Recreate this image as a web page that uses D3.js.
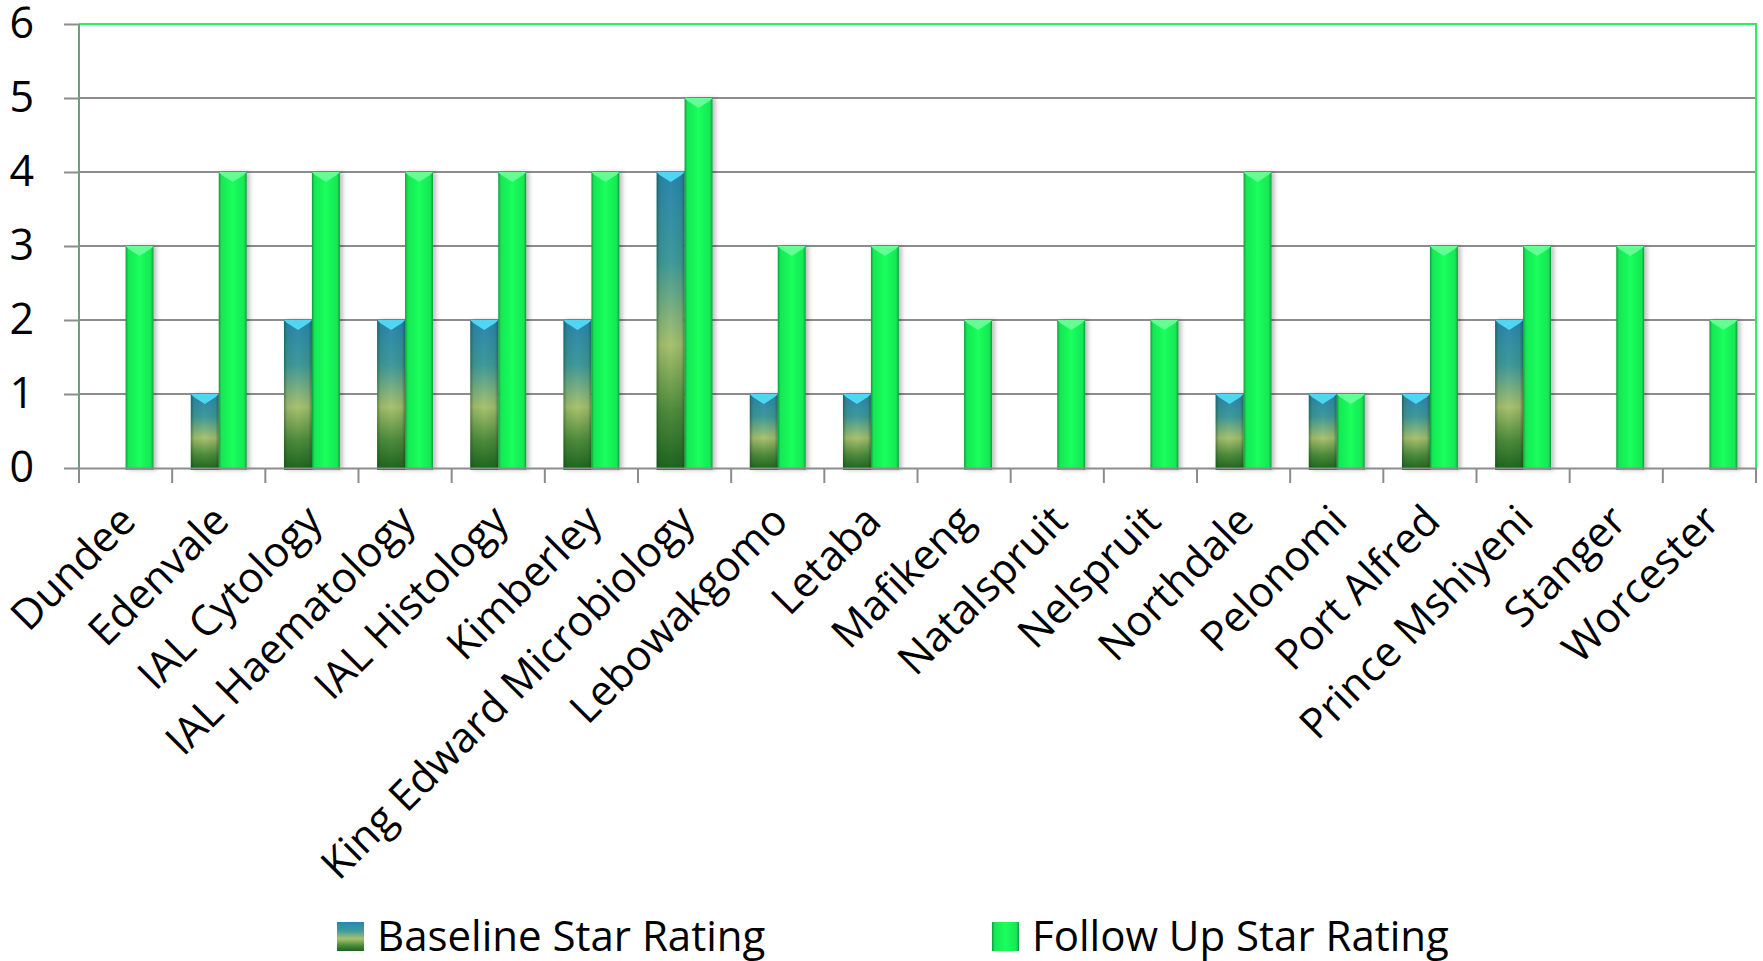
<!DOCTYPE html>
<html lang="en">
<head>
  <meta charset="UTF-8">
  <title>Star Rating</title>
  <script src="https://cdn.jsdelivr.net/npm/d3@7/dist/d3.min.js"></script>
  <style>
    body { margin: 0; background: #fff; }
    text { font-family: "Open Sans", sans-serif; fill: #000; }
  </style>
</head>
<body>
  <script>
    const categories = ['Dundee', 'Edenvale', 'IAL Cytology', 'IAL Haematology', 'IAL Histology', 'Kimberley',
      'King Edward Microbiology', 'Lebowakgomo', 'Letaba', 'Mafikeng', 'Natalspruit', 'Nelspruit',
      'Northdale', 'Pelonomi', 'Port Alfred', 'Prince Mshiyeni', 'Stanger', 'Worcester']
    const baseline = [0, 1, 2, 2, 2, 2, 4, 1, 1, 0, 0, 0, 1, 1, 1, 2, 0, 0]
    const followUp = [3, 4, 4, 4, 4, 4, 5, 3, 3, 2, 2, 2, 4, 1, 3, 3, 3, 2]
    const seriesNames = ['Baseline Star Rating', 'Follow Up Star Rating']
    const yTicks = [0, 1, 2, 3, 4, 5, 6]

    const W = 1763, H = 961
    const pLeft = 79, pRight = 1756, pTop = 24, pBottom = 468

    const svg = d3.select('body').append('svg')
      .attr('width', W).attr('height', H)

    const defs = svg.append('defs')

    // 柱子渐变
    const gBase = defs.append('linearGradient').attr('id', 'gBase')
      .attr('x1', 0).attr('y1', 0).attr('x2', 0).attr('y2', 1)
    ;[[0, '#2a86b0'], [0.3, '#3f9a9c'], [0.58, '#a9c26f'], [0.8, '#4f8c3c'], [1, '#1c6420']]
      .forEach(s => gBase.append('stop').attr('offset', s[0]).attr('stop-color', s[1]))

    const gEdge = defs.append('linearGradient').attr('id', 'gEdge')
      .attr('x1', 0).attr('y1', 0).attr('x2', 1).attr('y2', 0)
    ;[[0, 0.45], [0.12, 0.1], [0.5, 0], [0.88, 0.1], [1, 0.45]]
      .forEach(s => gEdge.append('stop').attr('offset', s[0]).attr('stop-color', '#0a3a14').attr('stop-opacity', s[1]))

    const gFollow = defs.append('linearGradient').attr('id', 'gFollow')
      .attr('x1', 0).attr('y1', 0).attr('x2', 1).attr('y2', 0)
    ;[[0, '#0f9c3e'], [0.1, '#17e855'], [0.5, '#1aff5c'], [0.9, '#17e855'], [1, '#0f9c3e']]
      .forEach(s => gFollow.append('stop').attr('offset', s[0]).attr('stop-color', s[1]))

    defs.append('filter').attr('id', 'shadow').attr('x', '-20%').attr('width', '160%')
      .append('feDropShadow').attr('dx', 3).attr('dy', 0).attr('stdDeviation', 2)
      .attr('flood-color', '#000').attr('flood-opacity', 0.25)

    const x0 = d3.scaleBand().domain(categories).range([pLeft, pRight])
    const x1 = d3.scaleBand().domain(seriesNames)
      .range([x0.bandwidth() * 0.2, x0.bandwidth() * 0.8])
    const y = d3.scaleLinear().domain([0, 6]).range([pBottom, pTop])

    // 网格线 + y轴
    const yAxis = d3.axisLeft(y).tickValues(yTicks).tickSize(15).tickPadding(30).tickFormat(d3.format('d'))
    const yg = svg.append('g').attr('transform', `translate(${pLeft},0)`).call(yAxis)
    yg.select('.domain').remove()
    yg.selectAll('line').attr('stroke', '#8c8c8c').attr('stroke-width', 2)
    yg.selectAll('text').attr('font-size', 43).attr('font-family', '"Open Sans", sans-serif').attr('fill', '#000')

    svg.append('g').selectAll('line').data(yTicks.filter(d => d > 0 && d < 6)).join('line')
      .attr('x1', pLeft).attr('x2', pRight)
      .attr('y1', d => y(d)).attr('y2', d => y(d))
      .attr('stroke', '#8c8c8c').attr('stroke-width', 2)

    // 外框
    svg.append('path')
      .attr('d', `M${pLeft},${pTop}H${pRight}V${pBottom}`)
      .attr('fill', 'none').attr('stroke', '#22f55a').attr('stroke-width', 2)
    svg.append('line').attr('x1', pLeft).attr('x2', pLeft).attr('y1', pTop).attr('y2', pBottom)
      .attr('stroke', '#6e9e7c').attr('stroke-width', 2)

    // 柱子
    const rows = categories.map((c, i) => ({ c, vals: [baseline[i], followUp[i]] }))
    const groups = svg.append('g').selectAll('g').data(rows).join('g')
      .attr('transform', d => `translate(${x0(d.c)},0)`)

    const bars = groups.selectAll('g').data(d => d.vals.map((v, j) => ({ v, s: seriesNames[j], j })).filter(e => e.v > 0))
      .join('g').attr('filter', 'url(#shadow)')

    bars.append('rect')
      .attr('x', d => x1(d.s)).attr('width', x1.bandwidth())
      .attr('y', d => y(d.v)).attr('height', d => pBottom - y(d.v) + 2)
      .attr('fill', d => d.j === 0 ? 'url(#gBase)' : 'url(#gFollow)')
    bars.filter(d => d.j === 0).append('rect')
      .attr('x', d => x1(d.s)).attr('width', x1.bandwidth())
      .attr('y', d => y(d.v)).attr('height', d => pBottom - y(d.v) + 2)
      .attr('fill', 'url(#gEdge)')
    // 顶部斜面
    bars.append('path')
      .attr('d', d => {
        const bx = x1(d.s), bw = x1.bandwidth(), by = y(d.v)
        return `M${bx},${by}H${bx + bw}L${bx + bw - 3},${by + 3}L${bx + bw / 2},${by + 10}L${bx + 3},${by + 3}Z`
      })
      .attr('fill', d => d.j === 0 ? '#4fd6f2' : '#63ff92')

    // x轴
    const xAxis = d3.axisBottom(x0).tickSize(15).tickSizeOuter(0).tickFormat('')
    const xg = svg.append('g').attr('transform', `translate(0,${pBottom})`).call(xAxis)
    xg.select('.domain').attr('stroke', '#8c8c8c').attr('stroke-width', 2)
    // 刻度线放在类别之间
    xg.selectAll('.tick line').attr('stroke', '#8c8c8c').attr('stroke-width', 2)
      .attr('transform', `translate(${x0.bandwidth() / 2},0)`)
    xg.append('line').attr('x1', pLeft).attr('x2', pLeft).attr('y1', 0).attr('y2', 15)
      .attr('stroke', '#8c8c8c').attr('stroke-width', 2)

    svg.append('g').selectAll('text').data(categories).join('text')
      .attr('transform', d => `translate(${x0(d) + x0.bandwidth() / 2 + 2},${pBottom + 45}) rotate(-45)`)
      .attr('text-anchor', 'end')
      .attr('dy', '0.35em')
      .attr('font-size', 42)
      .text(d => d)

    // 图例
    const legend = [
      { name: seriesNames[0], x: 337, fill: 'url(#gBase)' },
      { name: seriesNames[1], x: 992, fill: 'url(#gFollow)' }
    ]
    const lg = svg.append('g').selectAll('g').data(legend).join('g')
      .attr('transform', d => `translate(${d.x},922)`)
    lg.append('rect').attr('width', 27).attr('height', 29).attr('fill', d => d.fill)
    lg.append('text').attr('x', 40).attr('y', 14).attr('dy', '0.35em')
      .attr('font-size', 42).text(d => d.name)
  </script>
</body>
</html>
